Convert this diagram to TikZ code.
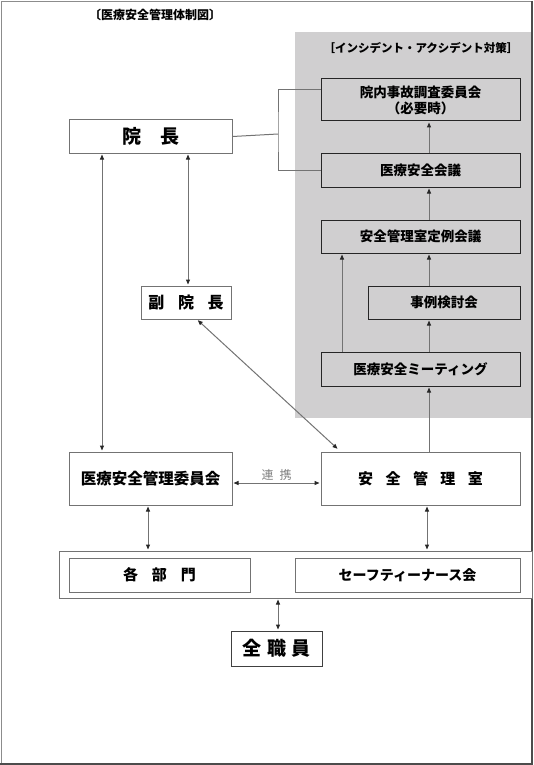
\documentclass[tikz,border=0pt]{standalone}
\usepackage{fontspec}
\setmainfont{Noto Sans CJK JP}
\usetikzlibrary{positioning,arrows.meta}
\definecolor{panelgray}{RGB}{208,207,208}
\tikzset{
  box/.style={draw=black!55, line width=1pt, fill=white, inner sep=0pt, align=center},
  pbox/.style={draw=black!85, line width=1pt, inner sep=0pt, align=center,
    font=\fontsize{13.5}{16}\selectfont\bfseries},
  wire/.style={draw=black!55, line width=1pt},
  tip/.style={},
  oneway/.style={wire, -{Triangle[length=5pt,width=4pt,color=black!85]}, shorten >=1pt},
  twoway/.style={wire, {Triangle[length=5pt,width=4pt,color=black!85]}-{Triangle[length=5pt,width=4pt,color=black!85]},
    shorten >=1pt, shorten <=1pt},
}
\begin{document}
\begin{tikzpicture}[x=1pt, y=-1pt]
    \useasboundingbox (0,0) rectangle (533,765);
    \fill[panelgray] (295,32) rectangle (531,418);
    \draw[black!45] (1,1) rectangle (531,763);
    \draw[black!70, line width=2pt] (532,1) -- (532,764) -- (0,764);

    \node[font=\fontsize{12}{14}\selectfont\bfseries] (title) at (155,15) {〔医療安全管理体制図〕};
    \node[font=\fontsize{11.5}{14}\selectfont\bfseries] (paneltitle) at (421,48) {［インシデント・アクシデント対策］};

    \node[pbox, minimum width=199pt, minimum height=42pt] (jiko) at (420.5,100) {院内事故調査委員会\\（必要時）};
    \node[pbox, minimum width=199pt, minimum height=34pt] (kaigi) at (420.5,170) {医療安全会議};
    \node[pbox, minimum width=199pt, minimum height=33pt] (teirei) at (420.5,236.5) {安全管理室定例会議};
    \node[pbox, minimum width=152pt, minimum height=33pt] (jirei) at (444,302.5) {事例検討会};
    \node[pbox, minimum width=199pt, minimum height=34pt] (meeting) at (420.5,369) {医療安全ミーティング};

    \node[box, minimum width=163pt, minimum height=33pt, font=\fontsize{19}{22}\selectfont\bfseries] (incho) at (150.5,136.5) {院　長};
    \node[box, minimum width=90pt, minimum height=33pt, font=\fontsize{16}{19}\selectfont\bfseries] (fukuincho) at (186,302.5) {副\hspace{0.85em}院\hspace{0.85em}長};
    \node[box, minimum width=163pt, minimum height=53pt, font=\fontsize{15.5}{18}\selectfont\bfseries] (iinkai) at (150.5,478.5) {医療安全管理委員会};
    \node[box, minimum width=199pt, minimum height=53pt, font=\fontsize{15}{18}\selectfont\bfseries] (kanri) at (420.5,478.5) {安\hspace{0.83em}全\hspace{0.83em}管\hspace{0.83em}理\hspace{0.83em}室};

    \node[box, minimum width=473pt, minimum height=47pt] (staff) at (295.5,574.5) {};
    \node[box, minimum width=181pt, minimum height=34pt, font=\fontsize{15}{18}\selectfont\bfseries] (bumon) at (159.5,575) {各\hspace{0.93em}部\hspace{0.93em}門};
    \node[box, minimum width=225pt, minimum height=34pt, font=\fontsize{14}{17}\selectfont\bfseries] (nurse) at (407.5,575) {セーフティーナース会};
    \node[box, draw=black!75, minimum width=91pt, minimum height=35pt, font=\fontsize{19}{22}\selectfont\bfseries] (zenshoku) at (276.5,648.5) {全\hspace{0.3em}職\hspace{0.3em}員};

    \coordinate (bus) at (278,134);
    \coordinate (col) at (429,0);
    \coordinate (leftcol) at (342,0);

    \draw[wire] (incho.east) -- (bus);
    \draw[wire] ([yshift=10pt]jiko.west) -| (bus) |- (kaigi.west);

    \foreach \a/\b in {kanri/meeting, meeting/jirei, jirei/teirei, teirei/kaigi, kaigi/jiko}
        \draw[oneway] (\a.north -| col) -- (\b.south -| col);
    \draw[oneway] (meeting.north -| leftcol) -- (teirei.south -| leftcol);

    \draw[twoway] ([xshift=-48.5pt]incho.south) -- ([xshift=-48.5pt]iinkai.north);
    \draw[twoway] ([xshift=37.5pt]incho.south) -- ([xshift=37.5pt]incho.south |- fukuincho.north);
    \draw[twoway, shorten >=4pt] ([xshift=11pt]fukuincho.south) -- ([xshift=20pt]kanri.north west);
    \draw[twoway] ([yshift=-4.5pt]iinkai.east) -- ([yshift=-4.5pt]kanri.west)
        node[midway, above=-1pt, text=black!50, font=\fontsize{12}{14}\selectfont] (renkei) {連\hspace{0.5em}携};
    \draw[twoway] ([xshift=-2.5pt]iinkai.south) -- ([xshift=-2.5pt]iinkai.south |- staff.north);
    \draw[twoway] ([xshift=6.5pt]kanri.south) -- ([xshift=6.5pt]kanri.south |- staff.north);
    \draw[twoway] ([xshift=1.5pt]zenshoku.north |- staff.south) -- ([xshift=1.5pt]zenshoku.north);
\end{tikzpicture}
\end{document}
